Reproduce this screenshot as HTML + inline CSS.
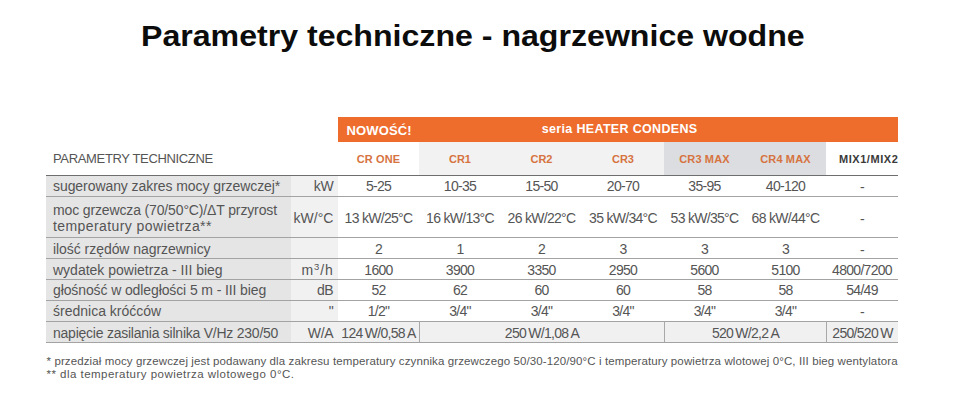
<!DOCTYPE html>
<html lang="pl">
<head>
<meta charset="utf-8">
<title>Parametry techniczne - nagrzewnice wodne</title>
<style>
*{margin:0;padding:0;box-sizing:border-box}
html,body{width:953px;height:404px;background:#fff;overflow:hidden}
body{position:relative;font-family:"Liberation Sans",sans-serif;color:#555}
h1{position:absolute;left:141px;top:16px;font-size:29px;line-height:40px;font-weight:700;color:#0c0c0c;white-space:nowrap;transform:scaleX(1.107);transform-origin:0 0}
.bar{position:absolute;left:338px;top:117px;width:560px;height:25px;background:#ee6c2c;color:#fff;font-weight:700;white-space:nowrap}
.bar span{position:absolute;top:0;line-height:25px}
.bar .n{left:8.6px;font-size:13px;letter-spacing:0.1px;top:0.5px}
.bar .s{left:203.8px;font-size:12.5px;letter-spacing:0.33px}
.hdr{position:absolute;left:46px;top:142px;height:33px;width:852px}
.hdr div{position:absolute;top:0;height:33px;line-height:34px;text-align:center;font-weight:700;font-size:11px;color:#d6733f;white-space:nowrap}
.hdr .pt{line-height:33px;left:7px;text-align:left;font-weight:400;font-size:13px;color:#555;letter-spacing:-0.34px}
.tbl{position:absolute;left:46px;top:175px;width:852px;display:grid;grid-template-columns:245px 47px 81px 82px 81px 82px 81px 81px 72px;grid-template-rows:21px 41px 21px 21px 21px 21px 21px;border-bottom:1px solid #a3a3a3;font-size:14px}
.tbl>div{border-top:1px solid #a3a3a3;white-space:nowrap;overflow:hidden;line-height:20px;text-align:center;color:#555;letter-spacing:-0.7px}
.tbl>div.f{border-top-color:#6e6e6e}
.tbl>.l{text-align:left;padding-left:7px;background:#e5e5e6;letter-spacing:-0.12px}
.tbl>.u{text-align:right;padding-right:4.6px;background:#f1f1f2;letter-spacing:-0.3px}
.tbl>.r2{line-height:40px;padding-top:1px}
.tbl>.dn{padding-top:1px}
.tbl>.l.r2{line-height:15.8px;padding-top:6.1px}
.tbl>.g{background:#f0f0f1}
.tbl>.bl{border-left:1px solid #a8a8a8}
.tbl i{font-style:normal;position:relative;top:1px}
sup{font-size:9.5px;vertical-align:5px;line-height:0;letter-spacing:0.9px}
.notes{position:absolute;left:46.5px;top:354.8px;font-size:11.5px;line-height:13.4px;color:#555;white-space:nowrap}
</style>
</head>
<body>
<h1>Parametry techniczne - nagrzewnice wodne</h1>
<div class="bar"><span class="n">NOWOŚĆ!</span><span class="s">seria HEATER CONDENS</span></div>
<div class="hdr">
  <div class="pt">PARAMETRY TECHNICZNE</div>
  <div style="left:292px;width:81px;background:#fff;letter-spacing:0.15px">CR ONE</div>
  <div style="left:373px;width:245px;background:#f2f2f3"></div>
  <div style="left:373px;width:82px">CR1</div>
  <div style="left:455px;width:81px">CR2</div>
  <div style="left:536px;width:82px">CR3</div>
  <div style="left:618px;width:162px;background:#dcdde0"></div>
  <div style="left:618px;width:81px;letter-spacing:0.14px">CR3 MAX</div>
  <div style="left:699px;width:81px;letter-spacing:0.14px">CR4 MAX</div>
  <div style="left:780px;width:72px;color:#3a3a3a;letter-spacing:0.55px;text-align:left;padding-left:13px">MIX1/MIX2</div>
</div>
<div class="tbl">
  <div class="l f" style="letter-spacing:-0.07px">sugerowany zakres mocy grzewczej*</div><div class="u f">kW</div><div class="f">5-25</div><div class="f">10-35</div><div class="f">15-50</div><div class="f">20-70</div><div class="f">35-95</div><div class="f">40-120</div><div class="f"><i>-</i></div>
  <div class="l r2"><span style="letter-spacing:-0.14px">moc grzewcza (70/50°C)/ΔT przyrost</span><br><span style="letter-spacing:0.41px">temperatury powietrza**</span></div><div class="u r2" style="letter-spacing:0">kW/°C</div><div class="r2">13 kW/25°C</div><div class="r2">16 kW/13°C</div><div class="r2">26 kW/22°C</div><div class="r2">35 kW/34°C</div><div class="r2">53 kW/35°C</div><div class="r2">68 kW/44°C</div><div class="r2"><i>-</i></div>
  <div class="l dn" style="letter-spacing:-0.05px">ilość rzędów nagrzewnicy</div><div class="u dn"></div><div class="dn">2</div><div class="dn">1</div><div class="dn">2</div><div class="dn">3</div><div class="dn">3</div><div class="dn">3</div><div class="dn"><i>-</i></div>
  <div class="l dn" style="letter-spacing:0px">wydatek powietrza - III bieg</div><div class="u dn" style="letter-spacing:0.9px;padding-right:4.3px">m<sup>3</sup>/h</div><div class="dn">1600</div><div class="dn">3900</div><div class="dn">3350</div><div class="dn">2950</div><div class="dn">5600</div><div class="dn">5100</div><div class="dn">4800/7200</div>
  <div class="l" style="letter-spacing:-0.11px">głośność w odległości 5 m - III bieg</div><div class="u">dB</div><div>52</div><div>62</div><div>60</div><div>60</div><div>58</div><div>58</div><div>54/49</div>
  <div class="l" style="letter-spacing:0px">średnica króćców</div><div class="u">"</div><div>1/2"</div><div>3/4"</div><div>3/4"</div><div>3/4"</div><div>3/4"</div><div>3/4"</div><div><i>-</i></div>
  <div class="l dn" style="letter-spacing:-0.24px">napięcie zasilania silnika V/Hz 230/50</div><div class="u g dn">W/A</div><div class="dn g">124&#8201;W/0,58&#8201;A</div><div class="dn g bl" style="grid-column:span 3">250&#8201;W/1,08&#8201;A</div><div class="dn g bl" style="grid-column:span 2">520&#8201;W/2,2&#8201;A</div><div class="dn g bl">250/520&#8201;W</div>
</div>
<div class="notes"><span style="letter-spacing:0.11px">* przedział mocy grzewczej jest podawany dla zakresu temperatury czynnika grzewczego 50/30-120/90°C i temperatury powietrza wlotowej 0°C, III bieg wentylatora</span><br><span style="letter-spacing:0.47px">** dla temperatury powietrza wlotowego 0°C.</span></div>
</body>
</html>
